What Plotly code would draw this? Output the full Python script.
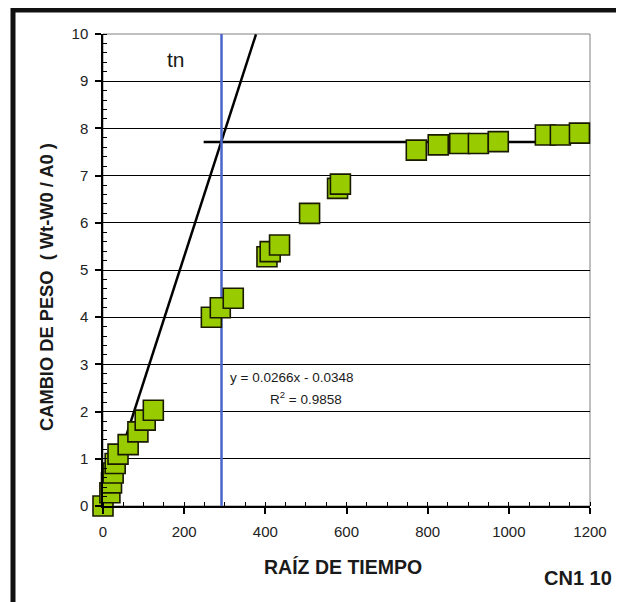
import plotly.graph_objects as go

# ---- data ----
x_vals = [0, 17, 21, 25, 30, 37, 62, 86, 104, 124, 267, 289, 321,
          404, 412, 435, 509, 578, 585, 772, 826, 879, 925, 974,
          1090, 1127, 1174]
y_vals = [0, 0.28, 0.49, 0.70, 0.90, 1.10, 1.30, 1.57, 1.82, 2.03, 4.00, 4.20, 4.40,
          5.28, 5.39, 5.53, 6.20, 6.73, 6.82, 7.54, 7.65, 7.68, 7.68, 7.72,
          7.86, 7.86, 7.90]

slope = 0.0266
intercept = -0.0348
trend_x = [3, 377]
plateau_y = 7.71
plateau_x = [248, 1180]
tn_x = 292

eq_text = "y = 0.0266x - 0.0348"
r2_text = "R<sup>2</sup> = 0.9858"
x_title = "RAÍZ DE TIEMPO"
y_title = "CAMBIO DE PESO  ( Wt-W0 / A0 )"
tag_text = "CN1 10"

FONT = "Liberation Sans, Arial, sans-serif"

fig = go.Figure()

# trend line
fig.add_trace(go.Scatter(
    x=trend_x, y=[slope * v + intercept for v in trend_x],
    mode="lines", line=dict(color="black", width=2.5),
    hoverinfo="skip", showlegend=False))

# plateau line
fig.add_trace(go.Scatter(
    x=plateau_x, y=[plateau_y, plateau_y],
    mode="lines", line=dict(color="black", width=2.5),
    hoverinfo="skip", showlegend=False))

# tn vertical line
fig.add_trace(go.Scatter(
    x=[tn_x, tn_x], y=[0, 10],
    mode="lines", line=dict(color="#4a64c8", width=2.5),
    hoverinfo="skip", showlegend=False))

# data points
fig.add_trace(go.Scatter(
    x=x_vals, y=y_vals, mode="markers",
    marker=dict(symbol="square", size=20, color="#99cc00",
                line=dict(color="#1a1a00", width=1.6)),
    cliponaxis=False, showlegend=False))

# page offset (body margin) of the rendered html
OFF = 8
W, H = 624, 602
# plot area in screen pixels
L, R, T, B = 103, 590, 34, 506

def px(xp):
    return (xp - L) / (R - L)
def py(yp):
    return (B - yp) / (B - T)

shapes = [
    dict(type="rect", xref="paper", yref="paper", x0=0, x1=1, y0=0, y1=1,
         line=dict(color="#808080", width=1), layer="below"),
    dict(type="rect", xref="paper", yref="paper",
         x0=px(13), x1=px(660), y0=py(660), y1=py(10),
         line=dict(color="#111111", width=5), layer="below"),
]

def note(xs, ys, text, size, angle=0):
    return dict(x=px(xs), y=py(ys), xref="paper", yref="paper", text=text,
                showarrow=False, xanchor="center", yanchor="middle",
                textangle=angle,
                font=dict(family=FONT, size=size, color="#1a1a1a"))

annotations = [
    note(176, 60, "tn", 21),
    note(291, 377, eq_text, 13.5),
    note(306, 398, r2_text, 13.5),
    note(343, 567, "<b>" + x_title + "</b>", 19.5),
    note(46, 287, "<b>" + y_title + "</b>", 18.3, -90),
    note(578, 578, "<b>" + tag_text + "</b>", 20),
]

fig.update_layout(
    width=W, height=H,
    margin=dict(l=L - OFF, r=W - (R - OFF), t=T - OFF, b=H - (B - OFF)),
    paper_bgcolor="white", plot_bgcolor="white",
    shapes=shapes, annotations=annotations,
    showlegend=False,
    font=dict(family=FONT, size=15, color="#222222"),
)

fig.update_xaxes(
    range=[0, 1200], dtick=200, tick0=0,
    showgrid=False, zeroline=False,
    showline=True, linecolor="black", linewidth=1.5,
    ticks="outside", ticklen=6, tickcolor="black", tickwidth=1.5,
    ticklabelstandoff=5,
    minor=dict(dtick=50, ticks="inside", ticklen=4, tickcolor="black", tickwidth=1),
    tickfont=dict(family=FONT, size=15, color="#222222"),
)
fig.update_yaxes(
    range=[0, 10], dtick=1, tick0=0,
    showgrid=True, gridcolor="black", gridwidth=1.2,
    zeroline=False,
    showline=True, linecolor="black", linewidth=1.5,
    ticks="outside", ticklen=6, tickcolor="black", tickwidth=1.5,
    ticklabelstandoff=4,
    minor=dict(dtick=0.2, ticks="inside", ticklen=4, tickcolor="black", tickwidth=1,
               showgrid=False),
    tickfont=dict(family=FONT, size=15, color="#222222"),
)

fig.write_html("out.html")
